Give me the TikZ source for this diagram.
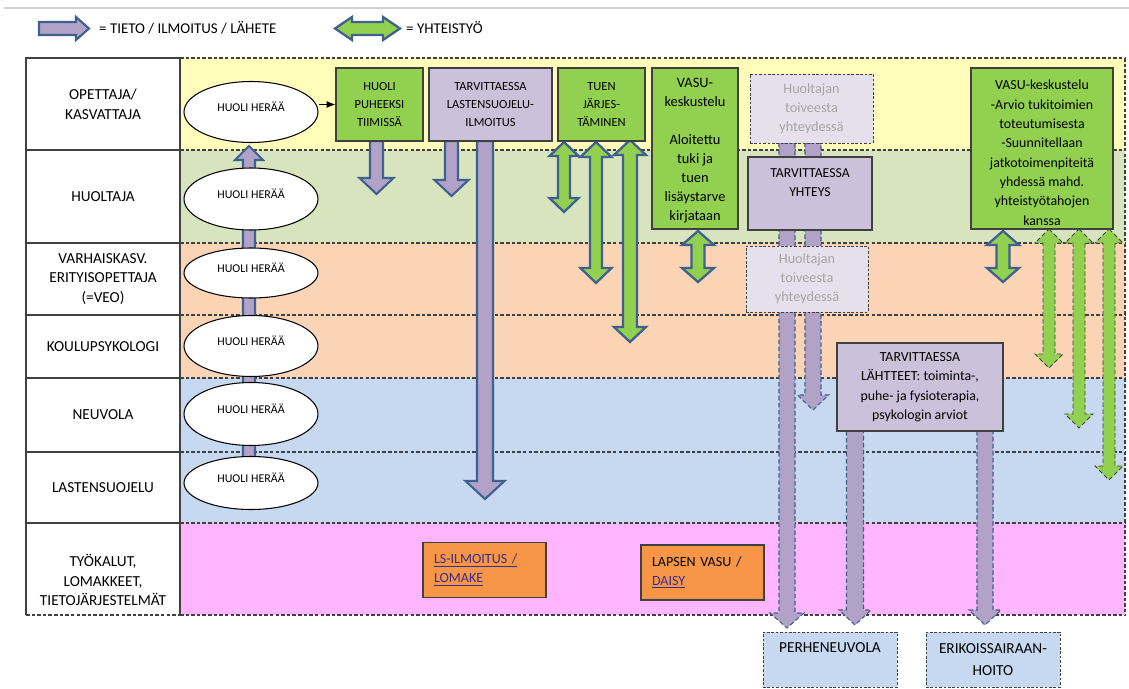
\documentclass[tikz,border=0pt]{standalone}
\usepackage{fontspec}
\setmainfont{Carlito}
\usetikzlibrary{arrows.meta,shapes.geometric}

\definecolor{bandyellow}{HTML}{FFFDB9}
\definecolor{bandgreen}{HTML}{D7E4BD}
\definecolor{bandpeach}{HTML}{FAD4B5}
\definecolor{bandblue}{HTML}{C6D9F0}
\definecolor{bandpink}{HTML}{FFB5FF}
\definecolor{boxgreen}{HTML}{92D050}
\definecolor{boxlav}{HTML}{CCC1DA}
\definecolor{palelav}{HTML}{E6E0EC}
\definecolor{arrowlav}{HTML}{B3A2C7}
\definecolor{arrowedge}{HTML}{3F6190}
\definecolor{orangebox}{HTML}{F79646}
\definecolor{linkcol}{HTML}{3B2D8C}
\definecolor{ghosttext}{HTML}{A5A5A5}
\definecolor{linegray}{HTML}{404040}

% x, top y, tip y, shaft half width, head half width, head length
\newcommand{\tietoarrow}[7][]{%
  \draw[#1] ({#2-#5},#3) -- ({#2-#5},{#4-(#7)}) -- ({#2-#6},{#4-(#7)}) -- (#2,#4)
    -- ({#2+#6},{#4-(#7)}) -- ({#2+#5},{#4-(#7)}) -- ({#2+#5},#3) -- cycle;}
\newcommand{\yhteisarrow}[7][]{%
  \draw[#1] (#2,#3) -- ({#2+#6},{#3+#7}) -- ({#2+#5},{#3+#7}) -- ({#2+#5},{#4-#7})
    -- ({#2+#6},{#4-#7}) -- (#2,#4) -- ({#2-#6},{#4-#7}) -- ({#2-#5},{#4-#7})
    -- ({#2-#5},{#3+#7}) -- ({#2-#6},{#3+#7}) -- cycle;}

\tikzset{
  rolecell/.style={draw=linegray, line width=0.8pt, minimum width=3.08cm, align=center,
    inner sep=1pt, font=\fontsize{8.7}{11.3}\selectfont},
  huoli/.style={ellipse, draw=black, line width=0.6pt, fill=white, minimum width=2.68cm,
    inner sep=0pt, text depth=0.22cm, font=\fontsize{6.8}{8}\selectfont},
  greenbox/.style={draw=linegray, line width=0.7pt, fill=boxgreen, align=center,
    inner sep=1pt, font=\fontsize{7.1}{10.4}\selectfont},
  lavbox/.style={greenbox, fill=boxlav},
  ghostbox/.style={draw=linegray, line width=0.5pt, dash pattern=on 1.5pt off 1pt, fill=palelav,
    text=ghosttext, align=center, font=\fontsize{8.1}{10.8}\selectfont},
  toolbox/.style={draw=linegray, line width=0.6pt, fill=orangebox, align=left, text width=2.02cm,
    inner sep=0.22cm, font=\fontsize{8}{10.8}\selectfont},
  targetbox/.style={draw=linegray, line width=0.5pt, dash pattern=on 1.5pt off 1pt, fill=bandblue,
    align=center, font=\fontsize{8.7}{12.4}\selectfont},
  boxtext/.style={anchor=north, inner sep=0pt, align=center},
  bandline/.style={draw=linegray, line width=0.6pt, dash pattern=on 2pt off 1.2pt},
  tieto/.style={fill=arrowlav, draw=arrowedge, line width=1.2pt},
  tietodash/.style={fill=arrowlav, draw=arrowedge, line width=0.6pt, dash pattern=on 2.5pt off 1.5pt},
  yhteis/.style={fill=boxgreen, draw=arrowedge, line width=1.3pt},
  yhteisdash/.style={fill=boxgreen, draw=linegray, line width=0.5pt, dash pattern=on 2.5pt off 1.5pt}
}

\begin{document}
\begin{tikzpicture}[x=0.02cm, y=-0.02cm]
  \useasboundingbox (0,0) rectangle (1129,689);
  \fill[white] (0,0) rectangle (1129,689);
  \draw[gray!35, line width=0.6pt] (4,8) -- (1129,8);

  % legend
  \draw[tieto] (39,22) -- (76,22) -- (76,17) -- (89,28.5) -- (76,40) -- (76,35) -- (39,35) -- cycle;
  \node[anchor=west, font=\fontsize{8.5}{10}\selectfont] (legendtieto) at (93,28) {= TIETO / ILMOITUS / LÄHETE};
  \draw[yhteis] (335,28.5) -- (352,17) -- (352,22) -- (383,22) -- (383,17) -- (400,28.5)
    -- (383,40) -- (383,35) -- (352,35) -- (352,40) -- cycle;
  \node[anchor=west, font=\fontsize{8.5}{10}\selectfont] (legendyhteis) at (400,28) {= YHTEISTYÖ};

  % bands
  \foreach \ya/\yb/\col in {58/150/bandyellow, 150/243/bandgreen, 243/315/bandpeach, 315/378/bandpeach,
      378/452/bandblue, 452/523/bandblue, 523/615/bandpink}
    \fill[\col] (180,\ya) rectangle (1125,\yb);
  \foreach \y in {58,150,243,315,378,452,523,615}
    \draw[bandline] (180,\y) -- (1125,\y);
  \draw[bandline] (1125,58) -- (1125,615);
  \draw[bandline] (26,615) -- (180,615);

  % roles
  \node[rolecell, minimum height=1.84cm] (opettaja) at (103,104) {OPETTAJA/\\KASVATTAJA};
  \node[rolecell, minimum height=1.86cm] (huoltaja) at (103,196.5) {HUOLTAJA};
  \node[rolecell, minimum height=1.44cm] (veo) at (103,279) {VARHAISKASV.\\ERITYISOPETTAJA\\(=VEO)};
  \node[rolecell, minimum height=1.26cm] (psykologi) at (103,346.5) {KOULUPSYKOLOGI};
  \node[rolecell, minimum height=1.48cm] (neuvola) at (103,415) {NEUVOLA};
  \node[rolecell, minimum height=1.42cm] (lsuojelu) at (103,487.5) {LASTENSUOJELU};
  \draw[linegray, line width=0.8pt] (26,615) -- (26,523) -- (180,523) -- (180,615);
  \node[rolecell, draw=none] (tyokalut) at (103,580) {TYÖKALUT,\\LOMAKKEET,\\TIETOJÄRJESTELMÄT};

  % arrows
  \tietoarrow[tieto]{249}{483}{146}{6}{14}{-14}
  \tietoarrow[tieto]{376.5}{141}{194}{6.5}{17}{16}
  \tietoarrow[tieto]{451.5}{141}{196}{6.5}{17}{16}
  \tietoarrow[tieto]{485}{141}{499}{8}{19.5}{18}
  \tietoarrow[tietodash]{787}{143}{628}{8}{17}{15}
  \tietoarrow[tietodash]{813}{143}{410}{8}{15.5}{15}
  \tietoarrow[tietodash]{855}{431}{625}{8.5}{16}{15}
  \tietoarrow[tietodash]{985}{431}{625}{8}{16}{15}
  \yhteisarrow[yhteis]{564}{142}{212}{6}{14.5}{14}
  \yhteisarrow[yhteis]{596}{142}{283}{6}{15.5}{15}
  \yhteisarrow[yhteis]{630}{140}{342}{7}{16}{15}
  \yhteisarrow[yhteis]{698}{231}{282}{6.5}{16}{14}
  \yhteisarrow[yhteis]{1003}{231}{282}{6.5}{16}{14}
  \yhteisarrow[yhteisdash]{1049}{229}{368}{6}{14}{14}
  \yhteisarrow[yhteisdash]{1079}{229}{428}{6}{14}{14}
  \yhteisarrow[yhteisdash]{1109}{229}{480}{6}{14}{14}

  % huoli herää
  \node[huoli, minimum height=1.22cm] (worry1) at (251,112) {HUOLI HERÄÄ};
  \node[huoli, minimum height=1.24cm] (worry2) at (251,199) {HUOLI HERÄÄ};
  \node[huoli, minimum height=1.0cm] (worry3) at (251,273) {HUOLI HERÄÄ};
  \node[huoli, minimum height=1.22cm] (worry4) at (251,346) {HUOLI HERÄÄ};
  \node[huoli, minimum height=1.26cm] (worry5) at (251,414) {HUOLI HERÄÄ};
  \node[huoli, minimum height=1.06cm] (worry6) at (251,483) {HUOLI HERÄÄ};

  % steps
  \node[greenbox, minimum width=1.74cm, minimum height=1.46cm] (puheeksi) at (379.5,104.5) {HUOLI\\PUHEEKSI\\TIIMISSÄ};
  \draw[-{Latex[length=5pt,width=4pt]}, line width=0.6pt] (worry1.east |- puheeksi.west) -- (puheeksi.west);
  \node[lavbox, minimum width=2.46cm, minimum height=1.46cm] (lsilmoitus) at (490.5,104.5) {TARVITTAESSA\\LASTENSUOJELU-\\ILMOITUS};
  \node[greenbox, minimum width=1.74cm, minimum height=1.46cm] (tuki) at (601.5,104.5) {TUEN\\JÄRJES-\\TÄMINEN};
  \node[greenbox, minimum width=1.72cm, minimum height=3.22cm] (vasu1) at (695,148.5) {};
  \node[boxtext, font=\fontsize{8.2}{10.8}\selectfont] (vasu1txt) at (695,78)
    {VASU-\\keskustelu\\[10.8pt]Aloitettu\\tuki ja\\tuen\\lisäystarve\\kirjataan};
  \node[ghostbox, minimum width=2.46cm, minimum height=1.38cm] (toive1) at (811.5,108.5) {Huoltajan\\toiveesta\\yhteydessä};
  \node[lavbox, minimum width=2.48cm, minimum height=1.46cm] (yhteys) at (810,193.5) {};
  \node[boxtext, font=\fontsize{7.8}{10.8}\selectfont] (yhteystxt) at (810,168) {TARVITTAESSA\\YHTEYS};
  \node[ghostbox, minimum width=2.44cm, minimum height=1.32cm] (toive2) at (807,279) {Huoltajan\\toiveesta\\yhteydessä};
  \node[greenbox, minimum width=2.84cm, minimum height=3.22cm] (vasu2) at (1042,148.5) {};
  \begin{scope}
    \clip (vasu2.south west) rectangle (vasu2.north east);
    \node[boxtext, font=\fontsize{7.9}{11}\selectfont] (vasu2txt) at (1042,80)
      {VASU-keskustelu\\-Arvio tukitoimien\\toteutumisesta\\-Suunnitellaan\\jatkotoimenpiteitä\\yhdessä mahd.\\yhteistyötahojen\\kanssa};
  \end{scope}
  \node[lavbox, minimum width=3.32cm, minimum height=1.76cm, font=\fontsize{7.9}{11.1}\selectfont] (lahteet) at (920,387)
    {TARVITTAESSA\\LÄHTTEET: toiminta-,\\puhe- ja fysioterapia,\\psykologin arviot};

  % tools
  \node[toolbox, minimum height=1.08cm, text=linkcol] (lslomake) at (484.5,570) {\underline{LS-ILMOITUS /}\\\underline{LOMAKE}};
  \node[toolbox, minimum height=1.1cm] (lapsenvasu) at (702.5,572.5) {LAPSEN VASU /\\\textcolor{linkcol}{\underline{DAISY}}};

  % targets
  \node[targetbox, minimum width=2.68cm, minimum height=1.1cm] (perhe) at (830,659.5) {};
  \node[boxtext, font=\fontsize{8.7}{12.4}\selectfont] (perhetxt) at (830,642) {PERHENEUVOLA};
  \node[targetbox, minimum width=2.68cm, minimum height=1.1cm] (erikois) at (993,659.5) {ERIKOISSAIRAAN-\\HOITO};
\end{tikzpicture}
\end{document}
